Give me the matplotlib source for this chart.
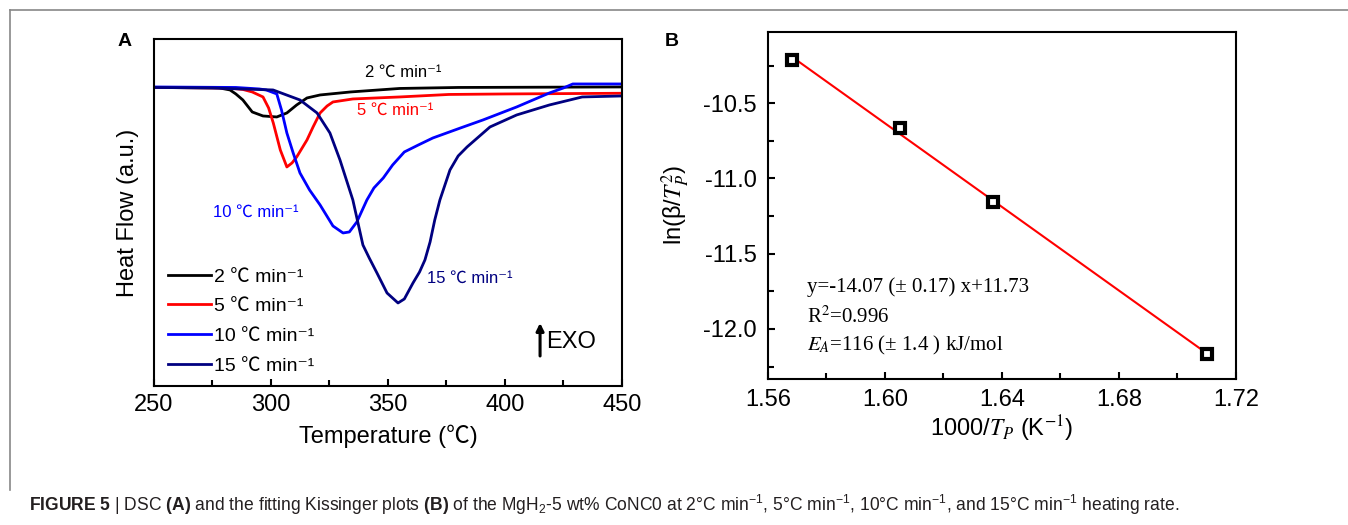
import matplotlib
matplotlib.use("Agg")
import matplotlib.pyplot as plt
from matplotlib.lines import Line2D
import numpy as np

plt.rcParams['font.family'] = ['Liberation Sans', 'Noto Sans CJK SC', 'DejaVu Sans']
plt.rcParams['mathtext.fontset'] = 'custom'
plt.rcParams['mathtext.rm'] = 'Liberation Sans'
plt.rcParams['mathtext.it'] = 'Liberation Sans:italic'
plt.rcParams['mathtext.bf'] = 'Liberation Sans:bold'

# --- Panel A: DSC curves (heat flow, a.u.) ---
t_2 = [250, 278, 282.5, 285, 288, 292, 296.6, 302.5, 306.8, 311, 315.4, 321, 334, 355, 380, 450]
hf_2 = [-0.05, -0.1, -0.3, -0.7, -1.3, -2.5, -2.9, -3.0, -2.6, -1.8, -1.1, -0.8, -0.5, -0.15, -0.05, 0.0]

t_5 = [250, 282, 288, 292, 296.6, 299, 301, 304, 306.8, 309, 311, 315.4, 318, 321, 324, 326.5,
       335, 355, 376, 400, 450]
hf_5 = [-0.05, -0.1, -0.25, -0.5, -1.0, -2.1, -3.6, -6.3, -8.0, -7.6, -7.0, -5.3, -4.0, -2.6, -1.9,
        -1.5, -1.2, -1.0, -0.75, -0.7, -0.63]

t_10 = [250, 285, 295, 298, 302.5, 304.5, 306.8, 309.5, 312.4, 316.5, 321, 326.5, 330.8, 333.5,
        336.7, 341, 344, 348, 352, 357, 363, 369.2, 381, 390.6, 405, 419, 425, 429, 450]
hf_10 = [0.0, -0.05, -0.2, -0.3, -0.7, -2.3, -4.6, -6.6, -8.6, -10.3, -11.8, -13.9, -14.6, -14.5,
         -13.5, -11.3, -10.1, -9.1, -7.8, -6.5, -5.8, -5.1, -4.1, -3.3, -2.0, -0.6, -0.1, 0.3, 0.3]

t_15 = [250, 275, 287, 300.9, 312.4, 319.7, 325.2, 329.5, 335, 339.3, 342, 345.3, 349.6, 354.3,
        357, 360.7, 363.5, 365.8, 368, 370, 372.2, 376.5, 380, 383.8, 393.6, 405, 419, 433, 450]
hf_15 = [-0.05, -0.1, -0.2, -0.3, -1.3, -2.6, -4.6, -7.3, -11.3, -15.8, -17.1, -18.6, -20.6, -21.6,
         -21.2, -19.6, -18.5, -17.3, -15.5, -13.3, -11.3, -8.3, -6.9, -6.0, -4.0, -2.8, -1.8, -1.0, -0.9]

rate_labels = ['2 ℃ min⁻¹', '5 ℃ min⁻¹', '10 ℃ min⁻¹', '15 ℃ min⁻¹']
rate_colors = ['black', '#ff0000', '#0000ff', '#000080']

# --- Panel B: Kissinger plot ---
inv_tp = [1.5682, 1.6051, 1.6369, 1.7101]
ln_beta = [-10.213, -10.667, -11.16, -12.167]

fig = plt.figure(figsize=(13.48, 5.25), dpi=100)

ax1 = fig.add_axes([0.1142, 0.2648, 0.3472, 0.6610])
for t, hf, c, lab in zip([t_2, t_5, t_10, t_15], [hf_2, hf_5, hf_10, hf_15], rate_colors, rate_labels):
    ax1.plot(t, hf, color=c, lw=2.0, label=lab)
ax1.set_xlim(250, 450)
ax1.set_ylim(-29.9, 4.8)
ax1.set_xticks([250, 300, 350, 400, 450])
ax1.set_xticks([275, 325, 375, 425], minor=True)
ax1.set_yticks([])
ax1.tick_params(axis='x', which='major', direction='in', length=5, width=1.5, labelsize=17, pad=6)
ax1.tick_params(axis='x', which='minor', direction='in', length=4, width=1.5)
for s in ax1.spines.values():
    s.set_linewidth(1.5)
ax1.set_xlabel('Temperature (℃)', fontsize=17, labelpad=6)
ax1.set_ylabel('Heat Flow (a.u.)', fontsize=17, labelpad=11)

ax1.text(340.2, 1.5, rate_labels[0], color=rate_colors[0], fontsize=12, va='center')
ax1.text(336.8, -2.3, rate_labels[1], color=rate_colors[1], fontsize=12, va='center')
ax1.text(275.2, -12.5, rate_labels[2], color=rate_colors[2], fontsize=12, va='center')
ax1.text(366.7, -19.1, rate_labels[3], color=rate_colors[3], fontsize=12, va='center')
ax1.annotate('', xy=(415, -23.6), xytext=(415, -26.9),
             arrowprops=dict(arrowstyle='-|>', color='black', lw=2.2, mutation_scale=11,
                             shrinkA=0, shrinkB=0))
ax1.text(417.5, -25.5, 'EXO', fontsize=17, va='center')
ax1.legend(loc='upper left', bbox_to_anchor=(0.03, 0.34), frameon=False, fontsize=14,
           handlelength=2.2, handletextpad=0.15, labelspacing=0.62, borderpad=0, borderaxespad=0)

ax2 = fig.add_axes([0.5697, 0.2781, 0.3472, 0.6610])
coef = np.polyfit(inv_tp, ln_beta, 1)
xfit = np.array([min(inv_tp), max(inv_tp)])
ax2.plot(xfit, np.polyval(coef, xfit), color='#ff0000', lw=1.5, zorder=2)
ax2.plot(inv_tp, ln_beta, 's', ms=7, mfc='white', mec='black', mew=3, zorder=3)
ax2.set_xlim(1.56, 1.72)
ax2.set_ylim(-12.333, -10.027)
ax2.set_xticks([1.56, 1.60, 1.64, 1.68, 1.72])
ax2.set_xticks([1.58, 1.62, 1.66, 1.70], minor=True)
ax2.set_yticks([-10.5, -11.0, -11.5, -12.0])
ax2.set_yticks([-10.25, -10.75, -11.25, -11.75, -12.25], minor=True)
ax2.xaxis.set_major_formatter(matplotlib.ticker.FormatStrFormatter('%.2f'))
ax2.yaxis.set_major_formatter(matplotlib.ticker.FormatStrFormatter('%.1f'))
ax2.tick_params(which='major', direction='in', length=5, width=1.5, labelsize=17)
ax2.tick_params(which='minor', direction='in', length=4, width=1.5)
ax2.tick_params(axis='x', pad=7)
ax2.tick_params(axis='y', pad=8)
for s in ax2.spines.values():
    s.set_linewidth(1.5)
ax2.set_xlabel('1000/$\\mathit{T}_{P}$ (K$^{-1}$)', fontsize=17, labelpad=2, math_fontfamily='stix')
ax2.set_ylabel('ln(β/$\\mathit{T}_{P}^{2}$)', fontsize=17, labelpad=8, math_fontfamily='stix')

serif = ['Liberation Serif', 'DejaVu Serif']
ax2.text(1.5733, -11.72, 'y=-14.07 (± 0.17) x+11.73', family=serif, fontsize=15, va='center')
ax2.text(1.5733, -11.92, 'R$^2$=0.996', family=serif, fontsize=15, va='center', math_fontfamily='stix')
ax2.text(1.5733, -12.107, '$E_A$=116 (± 1.4 ) kJ/mol', family=serif, fontsize=15, va='center',
         math_fontfamily='stix')

fig.text(125 / 1348, 1 - 42 / 525, 'A', fontsize=14, fontweight='bold', ha='center', va='center')
fig.text(672 / 1348, 1 - 42 / 525, 'B', fontsize=14, fontweight='bold', ha='center', va='center')

# frame of the figure panel
fig.add_artist(Line2D([10 / 1348, 1.0], [1 - 10 / 525, 1 - 10 / 525], color='#888888', lw=1.2))
fig.add_artist(Line2D([10 / 1348, 10 / 1348], [1 - 10 / 525, 1 - 490 / 525], color='#888888', lw=1.2))

caption = ('$\\mathbf{FIGURE\\ 5}$ | DSC $\\mathbf{(A)}$ and the fitting Kissinger plots $\\mathbf{(B)}$ '
           'of the MgH$_2$-5 wt% CoNC0 at 2°C min$^{-1}$, 5°C min$^{-1}$, 10°C min$^{-1}$, '
           'and 15°C min$^{-1}$ heating rate.')
fig.text(29 / 1348, 1 - 505 / 525, caption, fontsize=12.65, va='center', color='#231f20',
         math_fontfamily='custom')

fig.savefig('out.png', dpi=100)
